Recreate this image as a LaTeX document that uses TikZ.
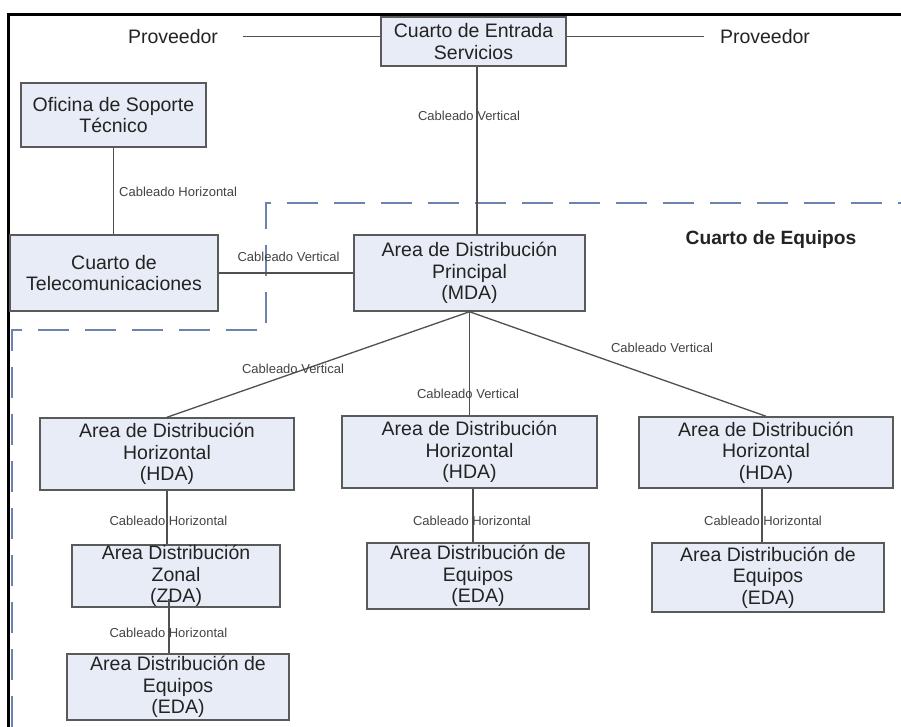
\documentclass[tikz,border=0pt]{standalone}
\usepackage{fontspec}
\setmainfont{Liberation Sans}
\definecolor{boxfill}{RGB}{232,236,247}
\definecolor{boxline}{RGB}{90,90,90}
\definecolor{wiregrey}{RGB}{80,80,80}
\definecolor{zone}{RGB}{110,130,175}
\definecolor{ink}{RGB}{35,35,35}

\begin{document}
\begin{tikzpicture}[x=1pt,y=-1pt,
  area/.style={draw=boxline, fill=boxfill, line width=1.5pt, align=center, inner sep=0pt, text=ink, font=\fontsize{19.5}{21.5}\selectfont},
  cab/.style={font=\fontsize{13}{15}\selectfont, text=ink!85, inner sep=0pt},
  wire/.style={draw=wiregrey, line width=1.3pt}]
  \useasboundingbox (0,0) rectangle (901,727);
  \fill[white] (0,0) rectangle (901,727);

  \draw[black, line width=3pt] (8,727) -- (8,15) -- (901,15);
  \draw[zone, line width=2pt, dash pattern=on 31pt off 16pt] (12,727) -- (12,330) -- (266,330) -- (266,203) -- (901,203);
  \node[font=\fontsize{19.2}{21}\selectfont\bfseries, text=ink] (equipos) at (771,240) {Cuarto de Equipos};

  \node[area, minimum width=185pt, minimum height=49pt] (entrada) at (473.5,41.5) {Cuarto de Entrada\\Servicios};
  \node[font=\fontsize{19.5}{21.5}\selectfont, text=ink, inner sep=0pt] (provL) at (173,36.5) {Proveedor};
  \node[font=\fontsize{19.5}{21.5}\selectfont, text=ink, inner sep=0pt] (provR) at (765,36.5) {Proveedor};
  \node[area, minimum width=185pt, minimum height=64pt] (oficina) at (113.5,115) {Oficina de Soporte\\Técnico};
  \node[area, minimum width=208pt, minimum height=76pt] (telecom) at (114,273) {Cuarto de\\Telecomunicaciones};
  \node[area, minimum width=231pt, minimum height=76pt] (mda) at (469.5,273) {Area de Distribución\\Principal\\(MDA)};

  \node[area, minimum width=254pt, minimum height=72pt] (hdaA) at (167,454) {Area de Distribución\\Horizontal\\(HDA)};
  \node[area, minimum width=255pt, minimum height=72pt] (hdaB) at (469.5,452) {Area de Distribución\\Horizontal\\(HDA)};
  \node[area, minimum width=254pt, minimum height=71pt] (hdaC) at (766,452.5) {Area de Distribución\\Horizontal\\(HDA)};

  \node[area, minimum width=208pt, minimum height=62pt] (zda) at (176,576) {Area Distribución\\Zonal\\(ZDA)};
  \node[area, minimum width=222pt, minimum height=66pt] (edaA) at (178,687) {Area Distribución de\\Equipos\\(EDA)};
  \node[area, minimum width=222pt, minimum height=66pt] (edaB) at (478,576) {Area Distribución de\\Equipos\\(EDA)};
  \node[area, minimum width=232pt, minimum height=69pt] (edaC) at (768,577.5) {Area Distribución de\\Equipos\\(EDA)};

  \draw[wire] ([xshift=25pt]provL.east) -- (provL.east -| entrada.west);
  \draw[wire] ([xshift=-16pt]provR.west) -- (provR.west -| entrada.east);
  \draw[wire] ([xshift=3.5pt]entrada.south) -- ([xshift=3.5pt]entrada.south |- mda.north);
  \draw[wire] (oficina.south) -- (oficina.south |- telecom.north);
  \draw[wire] (telecom.east) -- (mda.west);
  \draw[wire] (mda.south) -- (hdaA.north);
  \draw[wire] (mda.south) -- (hdaB.north);
  \draw[wire] (mda.south) -- (hdaC.north);
  \draw[wire] (hdaA.south) -- (hdaA.south |- zda.north);
  \draw[wire] ([xshift=-7pt,yshift=9pt]zda.south) -- ([xshift=-7pt]zda.south |- edaA.north);
  \draw[wire] ([xshift=3.5pt]hdaB.south) -- ([xshift=3.5pt]hdaB.south |- edaB.north);
  \draw[wire] ([xshift=-4pt]hdaC.south) -- ([xshift=-4pt]hdaC.south |- edaC.north);

  \node[cab] (cvEntrada) at (469,116) {Cableado Vertical};
  \node[cab, anchor=west] (chOficina) at (119,192) {Cableado Horizontal};
  \node[cab] (cvTelecom) at (288.5,257) {Cableado Vertical};
  \node[cab] (cvA) at (293,369) {Cableado Vertical};
  \node[cab] (cvB) at (468,394) {Cableado Vertical};
  \node[cab] (cvC) at (662,348) {Cableado Vertical};
  \node[cab] (chA) at (168.5,521) {Cableado Horizontal};
  \node[cab] (chZ) at (168.5,633) {Cableado Horizontal};
  \node[cab] (chB) at (472,521) {Cableado Horizontal};
  \node[cab] (chC) at (763,521) {Cableado Horizontal};
\end{tikzpicture}
\end{document}
